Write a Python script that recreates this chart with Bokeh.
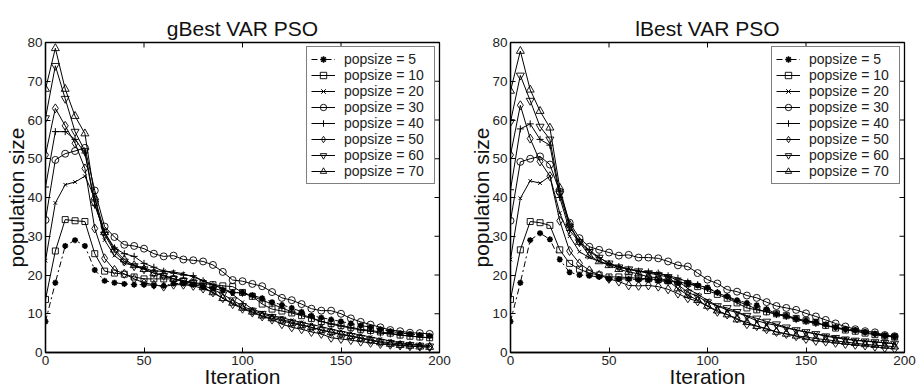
from bokeh.plotting import figure
from bokeh.layouts import row
from bokeh.models import Range1d, Legend, LegendItem, FixedTicker
from bokeh.embed import file_html
from bokeh.resources import INLINE

iterations = list(range(0, 200, 5))
popsizes = [5, 10, 20, 30, 40, 50, 60, 70]
x_ticks = [0, 50, 100, 150, 200]
y_ticks = [0, 10, 20, 30, 40, 50, 60, 70, 80]

gbest_5 = [8, 18, 27.5, 29, 27.5, 21.3, 18.5, 18, 17.7, 17.5, 17.5, 17.3, 17.2, 17.8, 17.8, 17.5, 17, 16.5, 16, 15.5,
           15.5, 14.8, 14, 13, 12.3, 11.5, 10.5, 9.5, 9, 8.5, 8, 7.5, 7, 6.5, 6, 5.5, 5, 4.8, 4.5, 4.3]
gbest_10 = [13.7, 26.2, 34.3, 34, 33.8, 25.5, 21, 20.5, 20.2, 19.5, 19, 19, 19, 19, 18.5, 18, 17.8, 17.5, 17.2, 17,
            15.5, 14.5, 12.5, 11.2, 10.7, 10.2, 9.5, 8.8, 8, 7.5, 7, 6.5, 6, 5.7, 5.3, 5, 4.5, 4.2, 4, 3.8]
gbest_20 = [23.7, 38.6, 43.3, 44, 45.5, 40, 29, 25, 23, 22.5, 21.8, 21, 21, 20.8, 20.3, 19.5, 18.5, 17.5, 16.5, 15,
            13, 11.2, 10.3, 9.5, 9, 8.3, 7.8, 7.2, 6.7, 6, 5.5, 5, 4.5, 4, 3.5, 3, 2.5, 2.2, 2, 1.8]
gbest_30 = [34.2, 49.7, 51.3, 52, 52.8, 41.8, 32.5, 29.8, 27.8, 27.5, 26.8, 25.5, 24.8, 25, 24, 23.8, 23.5, 22.6, 20.8, 18.7,
            18.4, 17.7, 17.1, 15.6, 14.1, 13.5, 12.5, 11.3, 10.8, 10.8, 10, 8.8, 7.9, 7.2, 6.5, 5.8, 5.5, 5.1, 5, 4.8]
gbest_40 = [42.7, 57, 57, 55, 51.5, 38, 31, 27, 25.5, 24.8, 23, 22, 21, 20.5, 20, 19.8, 18.5, 17.5, 16.5, 15.5,
            15.3, 14.5, 13.5, 12.5, 11.5, 10.5, 9.8, 9, 8, 7.3, 6.8, 6.3, 5.8, 5.5, 5, 4.8, 4.5, 4.3, 4, 3.8]
gbest_50 = [51, 63, 58.5, 54, 47.5, 32, 24.3, 21.3, 20.3, 19, 18, 17.5, 17, 17.5, 17.5, 17.2, 16.5, 15.5, 14, 12.5,
            11.3, 10.3, 9.3, 8.5, 7.3, 6.5, 6, 5.3, 4.8, 3.8, 3.5, 3.2, 2.8, 2.5, 2.2, 2, 1.8, 1.6, 1.5, 1.4]
gbest_60 = [60.5, 74, 65.5, 57, 52, 38.5, 30.5, 26, 23.5, 22.3, 21.5, 20.5, 19.8, 19, 18.5, 18, 17.3, 16.3, 15, 13.5,
            12, 10.8, 10, 9.2, 8.5, 7.8, 7.2, 6.5, 5.8, 5.3, 4.8, 4.3, 3.8, 3.3, 2.8, 2.5, 2.2, 2, 1.8, 1.6]
gbest_70 = [68, 78.5, 68, 61, 56.5, 40, 31, 26.5, 24, 22.5, 21.5, 20.5, 20, 19, 18.3, 17.8, 16.8, 15.5, 14, 12.8,
            11.5, 10.5, 9.5, 8.8, 8.2, 7.5, 7, 6.5, 5.8, 5.2, 4.6, 4.2, 3.6, 3.1, 2.6, 2.2, 1.9, 1.7, 1.5, 1.4]

lbest_5 = [8, 18, 29, 30.8, 29.2, 24, 20.7, 20, 19.8, 19.5, 19, 19, 19, 18.8, 18.8, 18.5, 18.3, 18, 17.8, 17.3,
           16.8, 15.5, 14.5, 13.5, 12.8, 12.2, 11.2, 10, 9.5, 8.8, 8.2, 7.8, 7.2, 6.5, 6, 5.8, 5.3, 4.8, 4.4, 4.2]
lbest_10 = [13.7, 26.5, 33.8, 33.5, 32.8, 26.5, 23, 21.5, 20.5, 20, 19.5, 19.5, 19.3, 19.2, 19, 18.8, 18.5, 18.2, 17.8, 17,
            16, 15, 14, 12.8, 11.5, 11, 10.5, 10, 9.5, 8.8, 8.2, 7.8, 7, 6.3, 5.8, 5.5, 5, 4.6, 4.2, 4]
lbest_20 = [24, 39.8, 44.3, 43.7, 45.5, 36, 30, 26, 24.5, 23.5, 22.8, 22, 21.5, 21, 20.5, 20.5, 19.8, 18.5, 16.5, 15,
            13.5, 12, 11, 10.3, 9.3, 8.2, 7.5, 7, 6.3, 5.8, 5.3, 4.8, 4.4, 4, 3.6, 3.2, 3, 2.8, 2.5, 2.3]
lbest_30 = [34, 49.2, 50, 50.6, 48.5, 41.5, 33.5, 29.5, 27.3, 26.5, 25.8, 25, 25.2, 24.5, 24.5, 24.3, 23.5, 22.5, 22.2, 20.5,
            18.8, 17.8, 16.2, 15.7, 14.7, 14.1, 13, 12, 11.5, 11, 10.1, 9.3, 8.4, 7.5, 6.7, 6, 5.5, 5.2, 4.5, 4.2]
lbest_40 = [42, 57.7, 59, 55, 53.5, 40, 31.5, 28.5, 26.5, 24.5, 23, 22.2, 21.5, 21, 20.8, 20.5, 19.8, 19.2, 18.2, 17.5,
            16.5, 15.5, 14.3, 13.2, 12.3, 11.2, 10.5, 9.8, 9.3, 8.5, 8, 7.5, 7, 6.5, 6, 5.5, 5.2, 4.8, 4.3, 4]
lbest_50 = [51, 63.8, 55.2, 49.3, 45.5, 34, 26.2, 23, 21.2, 20, 19, 18.3, 17.3, 17.2, 17.3, 17, 16.3, 15.2, 14, 13.2,
            12, 10.5, 9.8, 8.8, 7.3, 6.8, 6, 5.3, 4.8, 4.2, 3.5, 3, 2.8, 2.5, 2.2, 2, 1.8, 1.5, 1.2, 1]
lbest_60 = [59.5, 71.5, 65, 58.3, 55, 41, 32.5, 28.5, 26, 24.5, 23, 22, 21.5, 21, 20.5, 20, 19.5, 17.5, 15.5, 14.5,
            13, 12, 11.5, 10.5, 9.5, 8.8, 8, 7.3, 6.5, 5.8, 5.3, 4.8, 4.2, 3.8, 3.4, 3.1, 2.9, 2.7, 2.5, 2.3]
lbest_70 = [67.5, 77.8, 67.8, 62.3, 58, 42.5, 33, 28.5, 25, 23.5, 22.5, 21.5, 20.8, 20.3, 19.5, 19.3, 18.5, 16.5, 14.8, 13.5,
            12, 10.8, 9.8, 8.5, 7.8, 6.8, 6.2, 5.3, 4.8, 4.3, 4, 3.6, 3.3, 3, 2.7, 2.4, 2.1, 1.9, 1.7, 1.5]

gbest = [gbest_5, gbest_10, gbest_20, gbest_30, gbest_40, gbest_50, gbest_60, gbest_70]
lbest = [lbest_5, lbest_10, lbest_20, lbest_30, lbest_40, lbest_50, lbest_60, lbest_70]

FONT = "Liberation Sans"
STYLES = {
    5: dict(marker="asterisk", size=6, dash="6 3 2 3", mlw=1.6),
    10: dict(marker="square", size=6, dash="solid", mlw=0.9),
    20: dict(marker="x", size=5, dash="solid", mlw=1.0),
    30: dict(marker="circle", size=7, dash="solid", mlw=0.9),
    40: dict(marker="cross", size=7, dash="solid", mlw=1.0),
    50: dict(marker="diamond", size=9, dash="solid", mlw=0.9),
    60: dict(marker="inverted_triangle", size=8, dash="solid", mlw=0.9),
    70: dict(marker="triangle", size=8, dash="solid", mlw=0.9),
}

FRAME_W, FRAME_H = 394, 311
TICK_PX = 5


def make(title, series, w, bl, br):
    p = figure(width=w, height=390, x_range=Range1d(0, 200), y_range=Range1d(0, 80),
               output_backend="svg", toolbar_location=None,
               min_border_left=bl, min_border_right=br, min_border_top=42, min_border_bottom=37)
    p.title.text = title
    p.title.align = "center"
    p.title.text_font = FONT
    p.title.text_font_size = "21px"
    p.title.text_font_style = "normal"
    p.title.text_color = "#111111"
    p.title.standoff = 6
    p.grid.visible = False
    p.outline_line_color = "black"
    p.outline_line_width = 1.3
    p.background_fill_color = "white"
    p.border_fill_color = "white"

    p.xaxis.ticker = FixedTicker(ticks=x_ticks)
    p.yaxis.ticker = FixedTicker(ticks=y_ticks)
    p.xaxis.axis_label = "Iteration"
    p.yaxis.axis_label = "population size"
    for ax in (p.xaxis[0], p.yaxis[0]):
        ax.axis_label_text_font = FONT
        ax.axis_label_text_font_style = "normal"
        ax.axis_label_text_font_size = "21px"
        ax.axis_label_text_color = "#111111"
        ax.major_label_text_font = FONT
        ax.major_label_text_font_size = "13.5px"
        ax.major_label_text_color = "#222222"
        ax.major_tick_in = TICK_PX
        ax.major_tick_out = 0
        ax.minor_tick_line_color = None
        ax.axis_line_width = 1.3
        ax.major_tick_line_width = 1
    p.xaxis.axis_label_standoff = -3
    p.xaxis.major_label_standoff = 3
    p.yaxis.axis_label_standoff = -4
    p.yaxis.major_label_standoff = 3

    # mirrored inward ticks on the right and top edges (MATLAB box style)
    dx = TICK_PX * 200 / FRAME_W
    dy = TICK_PX * 80 / FRAME_H
    p.segment(x0=[200] * len(y_ticks), y0=y_ticks, x1=[200 - dx] * len(y_ticks), y1=y_ticks,
              line_color="black", line_width=1)
    p.segment(x0=x_ticks, y0=[80] * len(x_ticks), x1=x_ticks, y1=[80 - dy] * len(x_ticks),
              line_color="black", line_width=1)

    items = []
    for ps, vals in zip(popsizes, series):
        st = STYLES[ps]
        ln = p.line(iterations, vals, line_color="black", line_width=1, line_dash=st["dash"])
        sc = p.scatter(iterations, vals, marker=st["marker"], size=st["size"], line_color="black",
                       line_width=st["mlw"], fill_color=None)
        items.append(LegendItem(label=f"popsize = {ps}", renderers=[ln, sc]))

    leg = Legend(items=items, location="top_right")
    leg.margin = 4
    leg.padding = 4
    leg.spacing = 0
    leg.label_height = 16
    leg.glyph_height = 16
    leg.glyph_width = 24
    leg.label_standoff = 9
    leg.label_width = 86
    leg.label_text_font = FONT
    leg.label_text_font_size = "14px"
    leg.label_text_color = "#222222"
    leg.border_line_color = "black"
    leg.border_line_width = 1.6
    leg.background_fill_alpha = 1
    p.add_layout(leg)
    return p


p1 = make("gBest VAR PSO", gbest, 456, 45, 17)
p2 = make("lBest VAR PSO", lbest, 460, 54, 12)
layout = row(p1, p2)

open("out.html", "w").write(file_html(layout, INLINE))
